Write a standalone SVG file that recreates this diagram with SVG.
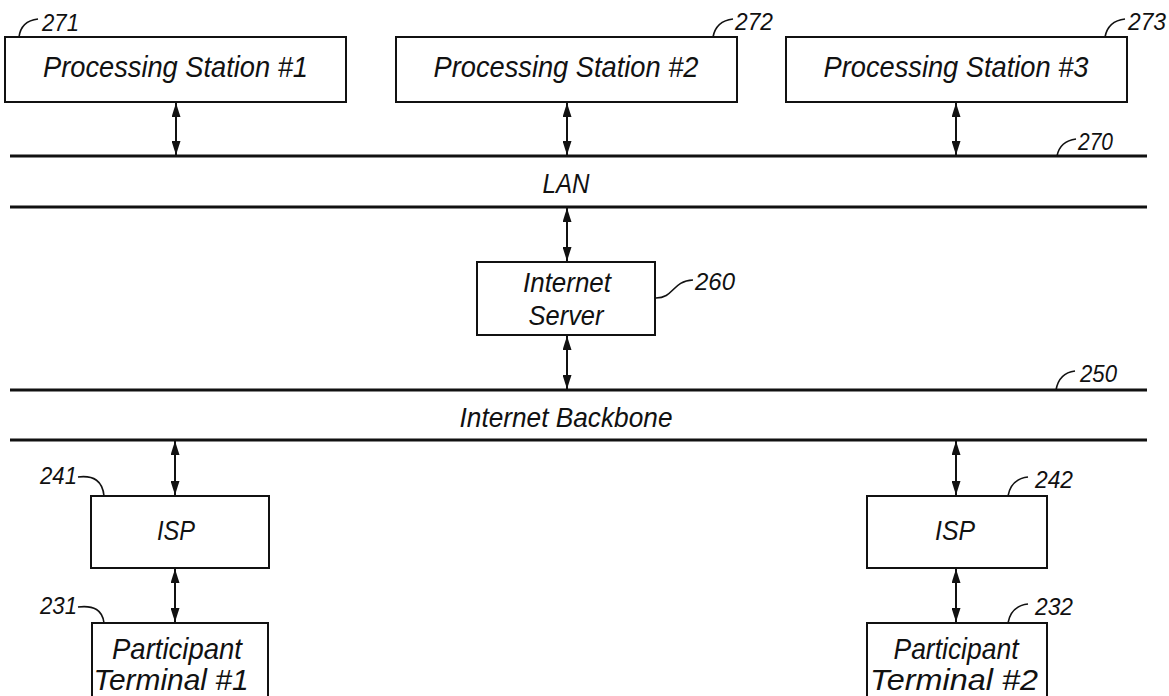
<svg xmlns="http://www.w3.org/2000/svg" width="1169" height="696" viewBox="0 0 1169 696">
<style>
.box{fill:#fff;stroke:#111;stroke-width:2}
.bus{stroke:#111;stroke-width:3;fill:none}
.conn{stroke:#111;stroke-width:2;fill:none}
.lead{stroke:#111;stroke-width:1.6;fill:none}
.t{font-family:"Liberation Sans",Arial,sans-serif;font-style:italic;font-size:30px;fill:#111;text-anchor:middle}
.m{font-size:28px}
.n{font-family:"Liberation Sans",Arial,sans-serif;font-style:italic;font-size:23px;fill:#111}
</style>
<defs>
<marker id="ah" viewBox="0 0 14 9" refX="14" refY="4.5" markerWidth="14" markerHeight="9" orient="auto-start-reverse" markerUnits="userSpaceOnUse">
<path d="M0,0 L14,4.5 L0,9 z" fill="#111"/>
</marker>
</defs>
<rect width="1169" height="696" fill="#fff"/>

<g id="lan270">
<line class="bus" x1="10" y1="156" x2="1147" y2="156"/>
<line class="bus" x1="10" y1="207" x2="1147" y2="207"/>
<text class="t m" x="566" y="193" textLength="47" lengthAdjust="spacingAndGlyphs">LAN</text>
<path class="lead" d="M1057,156 Q1060,141 1076,139"/>
<text class="n" x="1078" y="150" textLength="35" lengthAdjust="spacingAndGlyphs">270</text>
</g>

<g id="backbone250">
<line class="bus" x1="10" y1="390" x2="1147" y2="390"/>
<line class="bus" x1="10" y1="440" x2="1147" y2="440"/>
<text class="t m" x="566" y="427" textLength="213" lengthAdjust="spacingAndGlyphs">Internet Backbone</text>
<path class="lead" d="M1056,390 Q1059,373 1075,371"/>
<text class="n" x="1080" y="382" textLength="37" lengthAdjust="spacingAndGlyphs">250</text>
</g>

<g id="ps271">
<rect class="box" x="5" y="37" width="341" height="65"/>
<text class="t" x="175.5" y="77" textLength="265" lengthAdjust="spacingAndGlyphs">Processing Station #1</text>
<path class="lead" d="M19,37 Q21,21 38,19"/>
<text class="n" x="42" y="31" textLength="37" lengthAdjust="spacingAndGlyphs">271</text>
</g>

<g id="ps272">
<rect class="box" x="396" y="37" width="341" height="65"/>
<text class="t" x="566" y="77" textLength="265" lengthAdjust="spacingAndGlyphs">Processing Station #2</text>
<path class="lead" d="M713,37 Q716,21 733,19"/>
<text class="n" x="735" y="30" textLength="38" lengthAdjust="spacingAndGlyphs">272</text>
</g>

<g id="ps273">
<rect class="box" x="786" y="37" width="341" height="65"/>
<text class="t" x="956" y="77" textLength="265" lengthAdjust="spacingAndGlyphs">Processing Station #3</text>
<path class="lead" d="M1105,37 Q1108,21 1125,19"/>
<text class="n" x="1128" y="30" textLength="38" lengthAdjust="spacingAndGlyphs">273</text>
</g>

<g id="server260">
<rect class="box" x="477" y="262" width="178" height="73"/>
<text class="t m" x="567" y="292" textLength="88" lengthAdjust="spacingAndGlyphs">Internet</text>
<text class="t m" x="566" y="325" textLength="75" lengthAdjust="spacingAndGlyphs">Server</text>
<path class="lead" d="M656,298 C674,298 672,281 693,280"/>
<text class="n" x="695" y="290" textLength="40" lengthAdjust="spacingAndGlyphs">260</text>
</g>

<g id="isp241">
<rect class="box" x="91" y="496" width="178" height="72"/>
<text class="t m" x="176" y="540" textLength="38" lengthAdjust="spacingAndGlyphs">ISP</text>
<path class="lead" d="M78,477 Q102,474 104,496"/>
<text class="n" x="40" y="484" textLength="37" lengthAdjust="spacingAndGlyphs">241</text>
</g>

<g id="isp242">
<rect class="box" x="867" y="496" width="180" height="72"/>
<text class="t m" x="955" y="540" textLength="40" lengthAdjust="spacingAndGlyphs">ISP</text>
<path class="lead" d="M1008,496 Q1011,479 1028,477"/>
<text class="n" x="1035" y="488" textLength="38" lengthAdjust="spacingAndGlyphs">242</text>
</g>

<g id="pt231">
<rect class="box" x="92" y="623" width="176" height="80"/>
<text class="t" x="177" y="659" textLength="130" lengthAdjust="spacingAndGlyphs">Participant</text>
<text class="t" x="171" y="690" textLength="155" lengthAdjust="spacingAndGlyphs">Terminal #1</text>
<path class="lead" d="M78,607 Q102,604 104,623"/>
<text class="n" x="40" y="614" textLength="37" lengthAdjust="spacingAndGlyphs">231</text>
</g>

<g id="pt232">
<rect class="box" x="867" y="623" width="180" height="80"/>
<text class="t" x="956" y="659" textLength="125" lengthAdjust="spacingAndGlyphs">Participant</text>
<text class="t" x="954" y="690" textLength="168" lengthAdjust="spacingAndGlyphs">Terminal #2</text>
<path class="lead" d="M1008,623 Q1011,606 1028,604"/>
<text class="n" x="1035" y="615" textLength="38" lengthAdjust="spacingAndGlyphs">232</text>
</g>

<g id="connectors">
<line class="conn" x1="176" y1="103" x2="176" y2="155" marker-start="url(#ah)" marker-end="url(#ah)"/>
<line class="conn" x1="567" y1="103" x2="567" y2="155" marker-start="url(#ah)" marker-end="url(#ah)"/>
<line class="conn" x1="956" y1="103" x2="956" y2="155" marker-start="url(#ah)" marker-end="url(#ah)"/>
<line class="conn" x1="567" y1="208" x2="567" y2="261" marker-start="url(#ah)" marker-end="url(#ah)"/>
<line class="conn" x1="567" y1="336" x2="567" y2="389" marker-start="url(#ah)" marker-end="url(#ah)"/>
<line class="conn" x1="175" y1="441" x2="175" y2="495" marker-start="url(#ah)" marker-end="url(#ah)"/>
<line class="conn" x1="956" y1="441" x2="956" y2="495" marker-start="url(#ah)" marker-end="url(#ah)"/>
<line class="conn" x1="175" y1="569" x2="175" y2="622" marker-start="url(#ah)" marker-end="url(#ah)"/>
<line class="conn" x1="956" y1="569" x2="956" y2="622" marker-start="url(#ah)" marker-end="url(#ah)"/>
</g>
</svg>
